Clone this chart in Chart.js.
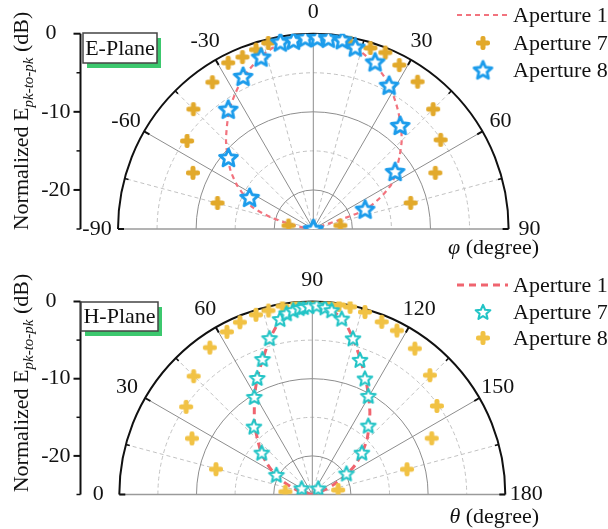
<!DOCTYPE html>
<html>
<head>
<meta charset="utf-8">
<script src="https://cdn.jsdelivr.net/npm/chart.js@4.4.1/dist/chart.umd.min.js"></script>
<style>
  html, body { margin: 0; padding: 0; background: #ffffff; }
  #wrap { position: relative; width: 608px; height: 529px; overflow: hidden; }
  #wrap canvas { position: absolute; left: 0; }
</style>
</head>
<body>
<div id="wrap">
  <canvas id="cE" width="608" height="264" style="top:0px"></canvas>
  <canvas id="cH" width="608" height="265" style="top:264px"></canvas>
</div>
<script>
// ---------- E-plane (angle phi, degrees; value in dB) ----------
const eAngles1 = [-90,-85,-80,-75,-70,-65,-60,-55,-50,-45,-40,-35,-30,-25,-20,-15,-10,-5,0,5,10,15,20,25,30,35,40,45,50,55,60,65,70,75,80,85,90];
const eAperture1 = [-25,-25,-22.9,-19.6,-16.6,-15.4,-13.7,-12.1,-10.7,-9.2,-7.8,-6.3,-5.0,-3.7,-2.6,-1.6,-0.9,-0.5,-0.4,-0.5,-0.9,-1.5,-2.4,-3.5,-4.8,-6.2,-7.6,-9.0,-10.6,-12.1,-13.4,-15.6,-18.2,-25,-25,-25,-25];

const eAngles7 = [-82,-74.8,-65,-55.1,-45,-34.5,-27.1,-22.4,-17.7,-13.6,11.3,17.5,22.2,27.7,35.3,45,55,65.3,75,82.6];
const eAperture7 = [-21.8,-12.3,-8.0,-5.3,-3.3,-2.2,-1.1,-1.2,-0.9,-0.5,-0.7,-0.7,-0.6,-1.3,-1.9,-3.3,-5.1,-7.8,-12.1,-21.5];

const eAngles8 = [-90,-63.6,-49.9,-35.4,-24.7,-16.9,-10,-6,-2.4,1.2,4.5,8.7,13,20.3,27.8,40,54.9,69.1,90];
const eAperture8 = [-25,-15.9,-10.8,-6.2,-3.5,-2.0,-0.7,-0.7,-0.5,-0.5,-0.5,-0.5,-1.1,-2.2,-4.2,-7.7,-12.2,-17.9,-25];

// ---------- H-plane (angle theta, degrees; value in dB) ----------
const hAngles1 = [0,5,10,15,20,25,30,35,40,45,50,55,60,65,70,75,80,85,90,95,100,105,110,115,120,125,130,135,140,145,150,155,160,165,170,175,180];
const hAperture1 = [-25,-25,-24.6,-23.2,-22.0,-20.6,-19.1,-17.7,-16.3,-15.0,-13.4,-11.9,-10.1,-8.2,-6.3,-4.0,-1.9,-0.9,-0.4,-0.9,-2.0,-4.3,-6.6,-8.6,-10.4,-12.0,-13.6,-15.0,-16.6,-18.1,-19.9,-21.9,-23.4,-24.5,-25,-25,-25];

const hAngles7 = [28.7,30.3,39.6,49.3,59.3,64.7,69.8,74.7,79.6,81.9,84.1,86,87.3,89,91.3,93.9,96,99.5,104.6,109.5,114.4,119.6,129.1,134,139.8,148.4];
const hAperture7 = [-19.7,-23.4,-16.5,-13.4,-10.3,-8.3,-6.3,-4.0,-1.9,-1.3,-1.0,-0.8,-0.7,-0.6,-0.5,-0.7,-1.0,-1.9,-4.1,-6.5,-8.5,-10.3,-13.5,-23.9,-16.6,-19.8];

const hAngles8 = [5.9,14.7,25,34.8,44.9,55.1,62.3,67.2,72.6,76.6,81,85.5,90,94.5,98,101.4,106.1,111.9,117.3,125.1,134.6,144.6,154.8,165.1,170.2];
const hAperture8 = [-21.5,-12.1,-7.8,-5.1,-3.3,-1.8,-1.2,-0.8,-0.6,-0.5,-0.3,-0.2,-0.2,-0.2,-0.2,-0.2,-0.4,-0.9,-1.1,-1.9,-3.3,-5.2,-7.9,-12.3,-21.6];

// ---------- ticks ----------
const dbTicks = [0, -10, -20];
const dbMinorTicks = [-5, -15, -25];
const ePhiTicks = [-90, -60, -30, 0, 30, 60, 90];
const hThetaTicks = [0, 30, 60, 90, 120, 150, 180];
const DB_FLOOR = -25;

const FONT = '"Liberation Serif", "Times New Roman", serif';
const FS = 22;

// polar (angle from vertical, dB) -> cartesian data units of the scatter scales
function toXY(angles, values, shift) {
  return angles.map((a, i) => {
    const t = (a + shift) * Math.PI / 180;
    const r = Math.max(0, values[i] - DB_FLOOR);
    return { x: r * Math.sin(t), y: r * Math.cos(t) };
  });
}

// marker sprites
function makeStar(color, rOuter, lw) {
  const s = Math.ceil(2 * (rOuter + lw) + 2);
  const c = document.createElement('canvas');
  c.width = s; c.height = s;
  const g = c.getContext('2d');
  const cx = s / 2, cy = s / 2 + rOuter * 0.08;
  g.beginPath();
  for (let i = 0; i < 10; i++) {
    const r = i % 2 ? rOuter * 0.46 : rOuter;
    const a = -Math.PI / 2 + i * Math.PI / 5;
    g.lineTo(cx + r * Math.cos(a), cy + r * Math.sin(a));
  }
  g.closePath();
  g.fillStyle = '#ffffff'; g.fill();
  g.lineJoin = 'round'; g.lineWidth = lw; g.strokeStyle = color; g.stroke();
  return c;
}
function makePlus(color, size, arm) {
  const s = size + 2;
  const c = document.createElement('canvas');
  c.width = s; c.height = s;
  const g = c.getContext('2d');
  g.fillStyle = color;
  const o = (s - size) / 2, m = (s - arm) / 2;
  const rr = arm / 2.4;
  g.beginPath(); g.roundRect(o, m, size, arm, rr); g.fill();
  g.beginPath(); g.roundRect(m, o, arm, size, rr); g.fill();
  return c;
}

const blueStar = makeStar('#1c9ceb', 9.4, 2.8);
const cyanStar = makeStar('#22c4c6', 7.7, 2.1);
const goldPlus = makePlus('#e2a92b', 14, 5);
const yellowPlus = makePlus('#f1c244', 14, 5);

function geom(chart) {
  const xs = chart.scales.x, ys = chart.scales.y;
  const cx = xs.getPixelForValue(0), cy = ys.getPixelForValue(0);
  const unit = cy - ys.getPixelForValue(1);
  return {
    cx, cy, unit, R: unit * (0 - DB_FLOOR),
    rad: db => (db - DB_FLOOR) * unit,
    pt: (deg, r) => { const a = deg * Math.PI / 180; return [cx + r * Math.sin(a), cy - r * Math.cos(a)]; }
  };
}

const polarFrame = {
  id: 'polarFrame',
  beforeDatasetsDraw(chart, args, o) {
    const ctx = chart.ctx, g = geom(chart);
    ctx.save();
    const spoke = (deg, r0, r1) => {
      const a = g.pt(deg, r0), b = g.pt(deg, r1);
      ctx.beginPath(); ctx.moveTo(a[0], a[1]); ctx.lineTo(b[0], b[1]); ctx.stroke();
    };
    const ring = r => { ctx.beginPath(); ctx.arc(g.cx, g.cy, r, Math.PI, 2 * Math.PI); ctx.stroke(); };
    // dashed minor grid
    ctx.lineWidth = 1; ctx.strokeStyle = '#c2c2c2'; ctx.setLineDash([4, 3]);
    for (const d of dbMinorTicks) if (d > DB_FLOOR) ring(g.rad(d));
    for (let a = -75; a <= 75; a += 30) spoke(a, 0, g.R);
    // solid major grid
    ctx.setLineDash([]); ctx.strokeStyle = '#8d8d8d';
    for (const d of dbTicks) if (d < 0) ring(g.rad(d));
    for (let a = -60; a <= 60; a += 30) spoke(a, 0, g.R);
    // baseline
    ctx.strokeStyle = '#9a9a9a'; ctx.lineWidth = 1.5;
    ctx.beginPath(); ctx.moveTo(g.cx - g.R, g.cy); ctx.lineTo(g.cx + g.R, g.cy); ctx.stroke();
    // outer rim
    ctx.strokeStyle = '#111'; ctx.lineWidth = 2;
    ring(g.R);
    for (let a = -90; a <= 90; a += 30) spoke(a, g.R - 6, g.R);
    ctx.lineWidth = 1.5;
    for (let a = -75; a <= 75; a += 30) spoke(a, g.R - 4, g.R);
    ctx.restore();
  },
  afterDraw(chart, args, o) {
    const ctx = chart.ctx, g = geom(chart);
    ctx.save();
    ctx.fillStyle = '#111';
    ctx.font = `${FS}px ${FONT}`;
    ctx.textAlign = 'center'; ctx.textBaseline = 'middle';
    // angular tick labels
    o.angleTicks.forEach(v => {
      const p = g.pt(v + o.shift, g.R + 21);
      ctx.fillText(String(v), p[0], p[1]);
    });
    // radial dB axis on the left
    const ax = o.axisX;
    ctx.strokeStyle = '#111'; ctx.lineWidth = 2;
    ctx.beginPath(); ctx.moveTo(ax, g.cy - g.R); ctx.lineTo(ax, g.cy); ctx.stroke();
    for (const d of dbTicks) {
      const y = g.cy - g.rad(d);
      ctx.beginPath(); ctx.moveTo(ax - 7, y); ctx.lineTo(ax, y); ctx.stroke();
    }
    ctx.lineWidth = 1.5;
    for (const d of dbMinorTicks) {
      const y = g.cy - g.rad(d);
      ctx.beginPath(); ctx.moveTo(ax - 4, y); ctx.lineTo(ax, y); ctx.stroke();
    }
    ctx.textAlign = 'right';
    for (const d of dbTicks) {
      const y = g.cy - g.rad(d);
      ctx.fillText(String(d), d === 0 ? ax - 24 : ax - 10, y);
    }
    // radial axis title (rotated, with subscript)
    const parts = [
      { t: 'Normalized E', f: `${FS}px ${FONT}`, dy: 0 },
      { t: 'pk-to-pk', f: `italic 15px ${FONT}`, dy: 5 },
      { t: ' (dB)', f: `${FS}px ${FONT}`, dy: 0 }
    ];
    let total = 0;
    parts.forEach(p => { ctx.font = p.f; p.w = ctx.measureText(p.t).width; total += p.w; });
    ctx.save();
    ctx.translate(28, o.titleY); ctx.rotate(-Math.PI / 2);
    ctx.textAlign = 'left'; ctx.textBaseline = 'alphabetic';
    let x = -total / 2;
    parts.forEach(p => { ctx.font = p.f; ctx.fillText(p.t, x, p.dy); x += p.w; });
    ctx.restore();
    // angular axis title
    ctx.textBaseline = 'middle'; ctx.textAlign = 'left';
    ctx.font = `italic ${FS}px ${FONT}`;
    const wv = ctx.measureText(o.varName).width;
    ctx.font = `${FS}px ${FONT}`;
    const wr = ctx.measureText(' (degree)').width;
    const x0 = 539 - wv - wr;
    ctx.font = `italic ${FS}px ${FONT}`; ctx.fillText(o.varName, x0, o.varY);
    ctx.font = `${FS}px ${FONT}`; ctx.fillText(' (degree)', x0 + wv, o.varY);
    // plane label box
    const b = o.box;
    ctx.fillStyle = '#3cc86e'; ctx.fillRect(b.x + 4, b.y + 5, b.w, b.h);
    ctx.fillStyle = '#ffffff'; ctx.fillRect(b.x, b.y, b.w, b.h);
    ctx.strokeStyle = '#444'; ctx.lineWidth = 1.5; ctx.strokeRect(b.x, b.y, b.w, b.h);
    ctx.fillStyle = '#111'; ctx.textAlign = 'center';
    ctx.fillText(o.plane, b.x + b.w / 2, b.y + b.h / 2 + 1);
    // legend
    ctx.textAlign = 'left';
    o.legend.forEach(item => {
      const ds = chart.data.datasets[item.ds];
      if (item.kind === 'line') {
        ctx.strokeStyle = ds.borderColor; ctx.lineWidth = ds.borderWidth;
        ctx.setLineDash(ds.borderDash);
        ctx.beginPath(); ctx.moveTo(457, item.y); ctx.lineTo(508, item.y); ctx.stroke();
        ctx.setLineDash([]);
      } else {
        const im = ds.pointStyle;
        ctx.drawImage(im, 483 - im.width / 2, item.y - im.height / 2);
      }
      ctx.fillStyle = '#111';
      ctx.fillText(ds.label, 513, item.y + 1);
    });
    ctx.restore();
  }
};

function makePanel(id, cfg) {
  return new Chart(document.getElementById(id), {
    type: 'scatter',
    data: { datasets: cfg.datasets },
    options: {
      responsive: false,
      animation: false,
      events: [],
      layout: { padding: cfg.padding },
      scales: {
        x: { type: 'linear', min: DB_FLOOR, max: -DB_FLOOR, display: false },
        y: { type: 'linear', min: 0, max: -DB_FLOOR, display: false }
      },
      plugins: {
        legend: { display: false },
        tooltip: { enabled: false },
        polarFrame: cfg.frame
      }
    },
    plugins: [polarFrame]
  });
}

// E-plane panel
makePanel('cE', {
  padding: { left: 118, right: 99.4, top: 33.7, bottom: 35 },
  datasets: [
    { label: 'Aperture 1', data: toXY(eAngles1, eAperture1, 0), showLine: true, pointRadius: 0,
      borderColor: '#f2737e', borderWidth: 2.2, borderDash: [5, 4], tension: 0.25, order: 2 },
    { label: 'Aperture 7', data: toXY(eAngles7, eAperture7, 0), pointStyle: goldPlus, pointRadius: 7, order: 1 },
    { label: 'Aperture 8', data: toXY(eAngles8, eAperture8, 0), pointStyle: blueStar, pointRadius: 9, order: 0 }
  ],
  frame: {
    angleTicks: ePhiTicks, shift: 0, axisX: 80.5, titleY: 121, varName: 'φ', varY: 248,
    plane: 'E-Plane', box: { x: 83, y: 33, w: 74, h: 30 },
    legend: [ { ds: 0, kind: 'line', y: 15 }, { ds: 1, kind: 'img', y: 43 }, { ds: 2, kind: 'img', y: 70 } ]
  }
});

// H-plane panel
makePanel('cH', {
  padding: { left: 119.3, right: 102.7, top: 37.5, bottom: 34.5 },
  datasets: [
    { label: 'Aperture 1', data: toXY(hAngles1, hAperture1, -90), showLine: true, pointRadius: 0,
      borderColor: '#f0646f', borderWidth: 3, borderDash: [7, 5], tension: 0.25, order: 2 },
    { label: 'Aperture 7', data: toXY(hAngles7, hAperture7, -90), pointStyle: cyanStar, pointRadius: 8, order: 0 },
    { label: 'Aperture 8', data: toXY(hAngles8, hAperture8, -90), pointStyle: yellowPlus, pointRadius: 7, order: 1 }
  ],
  frame: {
    angleTicks: hThetaTicks, shift: -90, axisX: 80.5, titleY: 119, varName: 'θ', varY: 253,
    plane: 'H-Plane', box: { x: 81, y: 38, w: 77, h: 29 },
    legend: [ { ds: 0, kind: 'line', y: 21 }, { ds: 1, kind: 'img', y: 48 }, { ds: 2, kind: 'img', y: 74 } ]
  }
});
</script>
</body>
</html>
